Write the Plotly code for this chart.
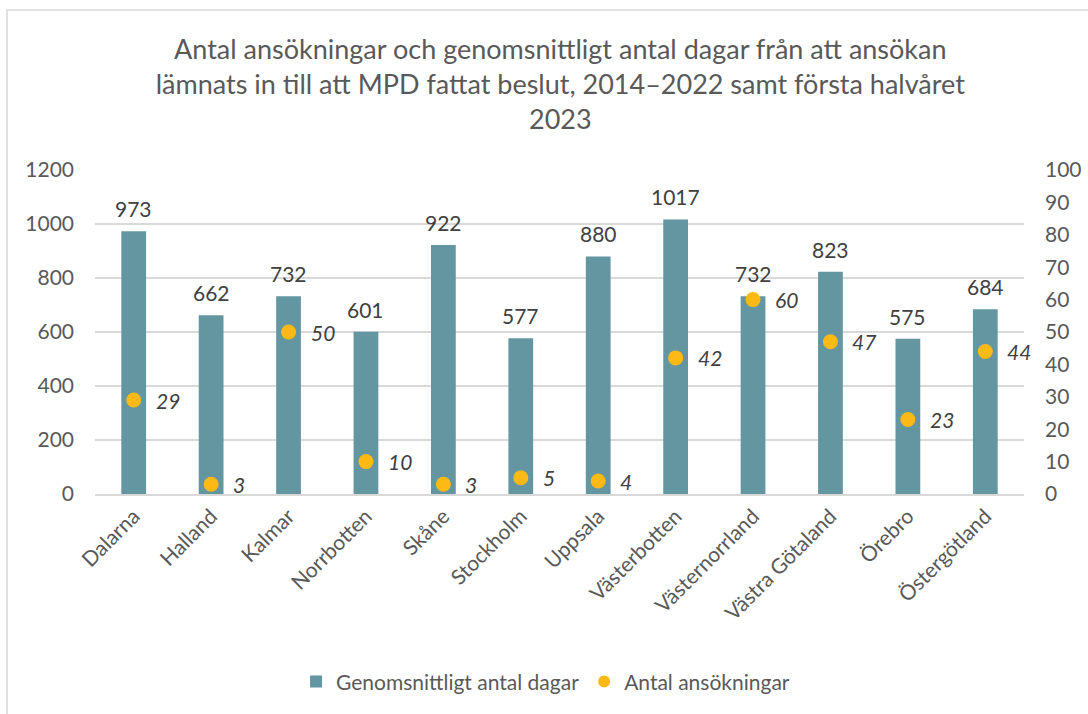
import plotly.graph_objects as go

categories = ["Dalarna", "Halland", "Kalmar", "Norrbotten", "Skåne", "Stockholm",
              "Uppsala", "Västerbotten", "Västernorrland", "Västra Götaland",
              "Örebro", "Östergötland"]
avg_days = [973, 662, 732, 601, 922, 577, 880, 1017, 732, 823, 575, 684]
applications = [29, 3, 50, 10, 3, 5, 4, 42, 60, 47, 23, 44]

left_ticks = [0, 200, 400, 600, 800, 1000, 1200]
right_ticks = [0, 10, 20, 30, 40, 50, 60, 70, 80, 90, 100]

FONT = "Lato, 'Open Sans', sans-serif"
GRAY = "#595959"
LABEL = "#404040"
BAR_COLOR = "#6496A2"
DOT_COLOR = "#FFB914"
FS = 21

fig = go.Figure()
fig.add_trace(go.Bar(
    x=categories, y=avg_days, name="Genomsnittligt antal dagar",
    marker=dict(color=BAR_COLOR, line=dict(width=0)),
    yaxis="y",
))
fig.add_trace(go.Scatter(
    x=categories, y=applications, name="Antal ansökningar",
    mode="markers",
    marker=dict(color=DOT_COLOR, size=15, symbol="circle"),
    yaxis="y2",
))

for c, v in zip(categories, avg_days):
    fig.add_annotation(x=c, y=v, xref="x", yref="y", text=str(v),
                       showarrow=False, yanchor="bottom", yshift=8,
                       font=dict(family=FONT, size=FS, color=LABEL))

for c, v in zip(categories, applications):
    fig.add_annotation(x=c, y=v, xref="x", yref="y2", text="<i>%d</i>" % v,
                       showarrow=False, xanchor="left", yanchor="middle", xshift=20,
                       font=dict(family=FONT, size=FS, color=LABEL))

fig.update_layout(
    width=1088, height=714,
    margin=dict(l=95, r=64, t=170, b=220),
    paper_bgcolor="white", plot_bgcolor="white",
    font=dict(family=FONT, size=FS, color=GRAY),
    title=dict(
        text="Antal ansökningar och genomsnittligt antal dagar från att ansökan<br>"
             "lämnats in till att MPD fattat beslut, 2014–2022 samt första halvåret<br>2023",
        x=0.515, xanchor="center", y=0.918, yanchor="top",
        font=dict(family=FONT, size=27, color=GRAY),
    ),
    bargap=0.68,
    xaxis=dict(tickangle=-45, showgrid=False, showline=True, linecolor="#d9d9d9",
               linewidth=1.5, ticks="", tickfont=dict(size=FS, color=GRAY),
               range=[-0.5, len(categories) - 0.5], automargin=False),
    yaxis=dict(range=[0, 1200], tickvals=left_ticks, showgrid=True,
               gridcolor="#d9d9d9", gridwidth=1.5, zeroline=False, showline=False,
               ticks="", tickfont=dict(size=FS, color=GRAY), ticklabelstandoff=20,
               automargin=False),
    yaxis2=dict(range=[0, 100], tickvals=right_ticks, overlaying="y", side="right",
                showgrid=False, zeroline=False, showline=False, ticks="",
                tickfont=dict(size=FS, color=GRAY), ticklabelstandoff=20,
                automargin=False),
    legend=dict(orientation="h", x=0.485, xanchor="center", y=-0.58, yanchor="middle",
                font=dict(size=FS, color=GRAY), itemsizing="constant"),
    showlegend=True,
)

fig.add_shape(type="rect", xref="paper", yref="paper",
              x0=-0.0947, x1=1.2, y0=-0.8, y1=1.494,
              line=dict(color="#d9d9d9", width=1.5), fillcolor="rgba(0,0,0,0)",
              layer="below")

fig.write_html("out.html", config={"displayModeBar": False},
               post_script="document.body.style.margin='0';")
